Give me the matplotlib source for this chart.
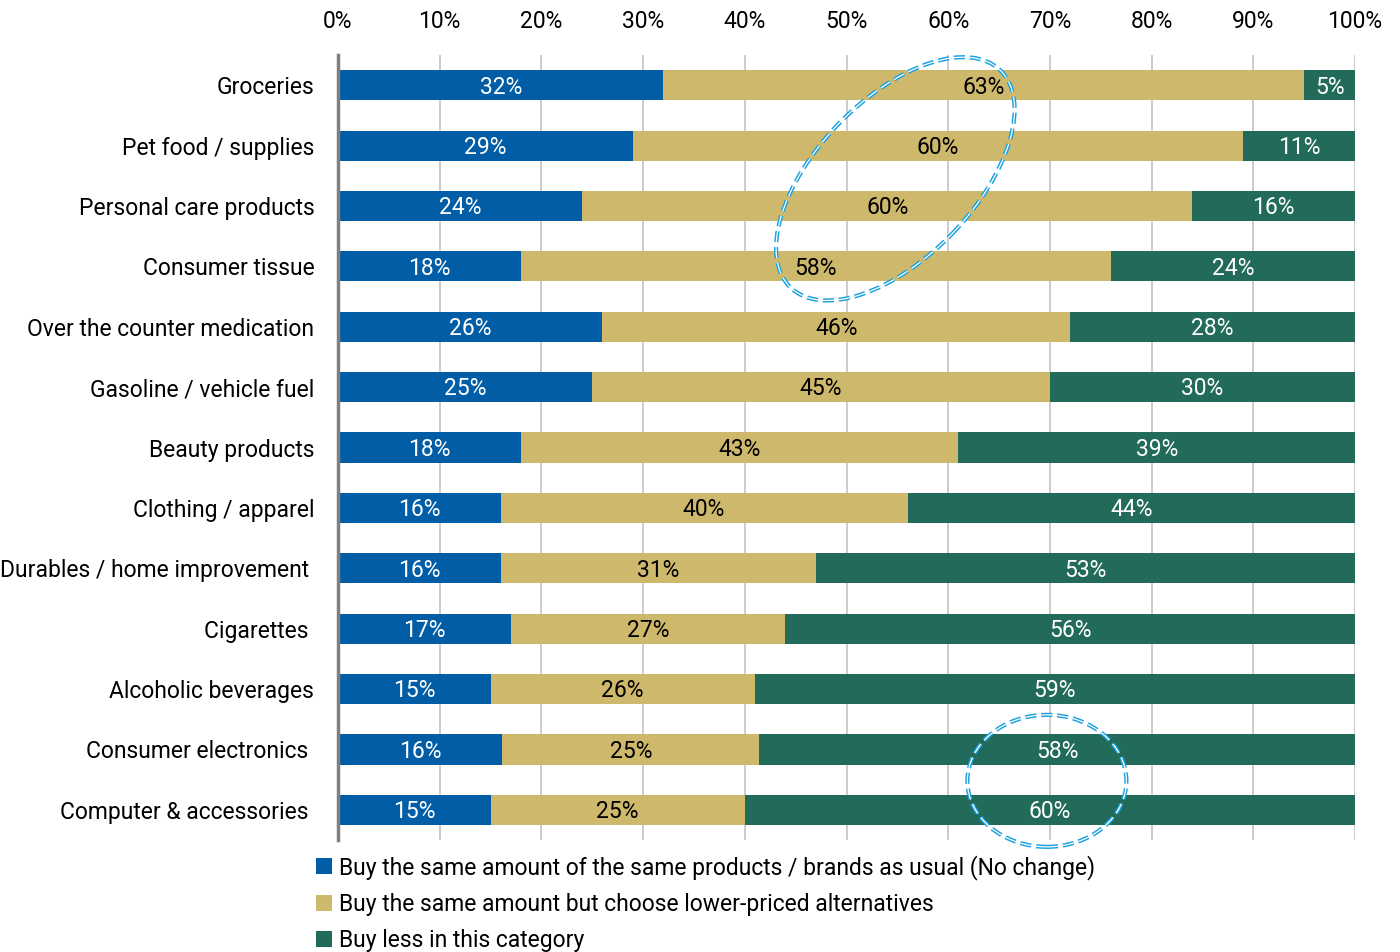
import matplotlib
matplotlib.use("Agg")
import matplotlib.pyplot as plt
from matplotlib.patches import Ellipse, Patch
from matplotlib.transforms import ScaledTranslation
import numpy as np

plt.rcParams['font.family'] = ['Roboto', 'DejaVu Sans']
plt.rcParams['lines.scale_dashes'] = False

categories = [
    "Groceries", "Pet food / supplies", "Personal care products", "Consumer tissue",
    "Over the counter medication", "Gasoline / vehicle fuel", "Beauty products",
    "Clothing / apparel", "Durables / home improvement ", "Cigarettes ",
    "Alcoholic beverages", "Consumer electronics ", "Computer & accessories ",
]
no_change = [32, 29, 24, 18, 26, 25, 18, 16, 16, 17, 15, 16, 15]
lower_priced = [63, 60, 60, 58, 46, 45, 43, 40, 31, 27, 26, 25, 25]
buy_less = [5, 11, 16, 24, 28, 30, 39, 44, 53, 56, 59, 58, 60]

series = [
    ("Buy the same amount of the same products / brands as usual (No change)", no_change, "#005DA6", "white"),
    ("Buy the same amount but choose lower-priced alternatives", lower_priced, "#CEB86B", "black"),
    ("Buy less in this category", buy_less, "#226B5A", "white"),
]

fig = plt.figure(figsize=(14, 9.52), dpi=100)
ax = fig.add_axes([0.2414, 0.1176, 0.7265, 0.8246])

y = np.arange(len(categories))
totals = np.array(no_change) + np.array(lower_priced) + np.array(buy_less)
left = np.zeros(len(categories))
for name, vals, color, txt in series:
    share = np.array(vals) / totals * 100
    ax.barh(y, share, left=left, height=0.5, color=color, zorder=2)
    for yi, l, w, v in zip(y, left, share, vals):
        ax.text(l + w / 2, yi + 0.03, f"{v}%", ha="center", va="center",
                color=txt, fontsize=16.5, zorder=3)
    left += share

ax.set_xlim(0, 100)
ax.set_ylim(len(categories) - 0.5, -0.5)
ax.set_xticks(np.arange(0, 101, 10))
ax.set_xticklabels([f"{t}%" for t in range(0, 101, 10)])
ax.xaxis.tick_top()
ax.set_yticks(y)
ax.set_yticklabels(categories)
ax.tick_params(axis="x", length=0, pad=16, labelsize=16.5)
ax.tick_params(axis="y", length=0, pad=17, labelsize=16.5)
ax.grid(axis="x", color="#C8C8C8", linewidth=1.3, zorder=0)
for s in ["top", "right", "bottom"]:
    ax.spines[s].set_visible(False)
ax.spines["left"].set_color("#808080")
ax.spines["left"].set_linewidth(2.5)
ax.spines["left"].set_zorder(4)

# dashed call-out rings, anchored at a data point, sized in inches
def ring(x, yc, w, h, angle):
    tr = fig.dpi_scale_trans + ScaledTranslation(x, yc, ax.transData)
    for lw, col in [(3.0, "#1BA1DE"), (0.9, "white")]:
        ax.add_patch(Ellipse((0, 0), w, h, angle=angle, transform=tr, fill=False,
                             edgecolor=col, linewidth=lw, linestyle=(0, (8, 3.5)),
                             zorder=5, clip_on=False))

ring(54.8, 1.55, 3.02, 1.58, 46)
ring(69.7, 11.52, 1.59, 1.32, 0)

handles = [Patch(facecolor=c, edgecolor="none", label=n) for n, _, c, _ in series]
fig.legend(handles=handles, loc="upper left", bbox_to_anchor=(0.2257, 0.102),
           frameon=False, fontsize=16.5, handlelength=0.7, handleheight=0.7,
           handletextpad=0.3, labelspacing=0.58, borderpad=0, borderaxespad=0)

fig.savefig("out.png", dpi=100)
